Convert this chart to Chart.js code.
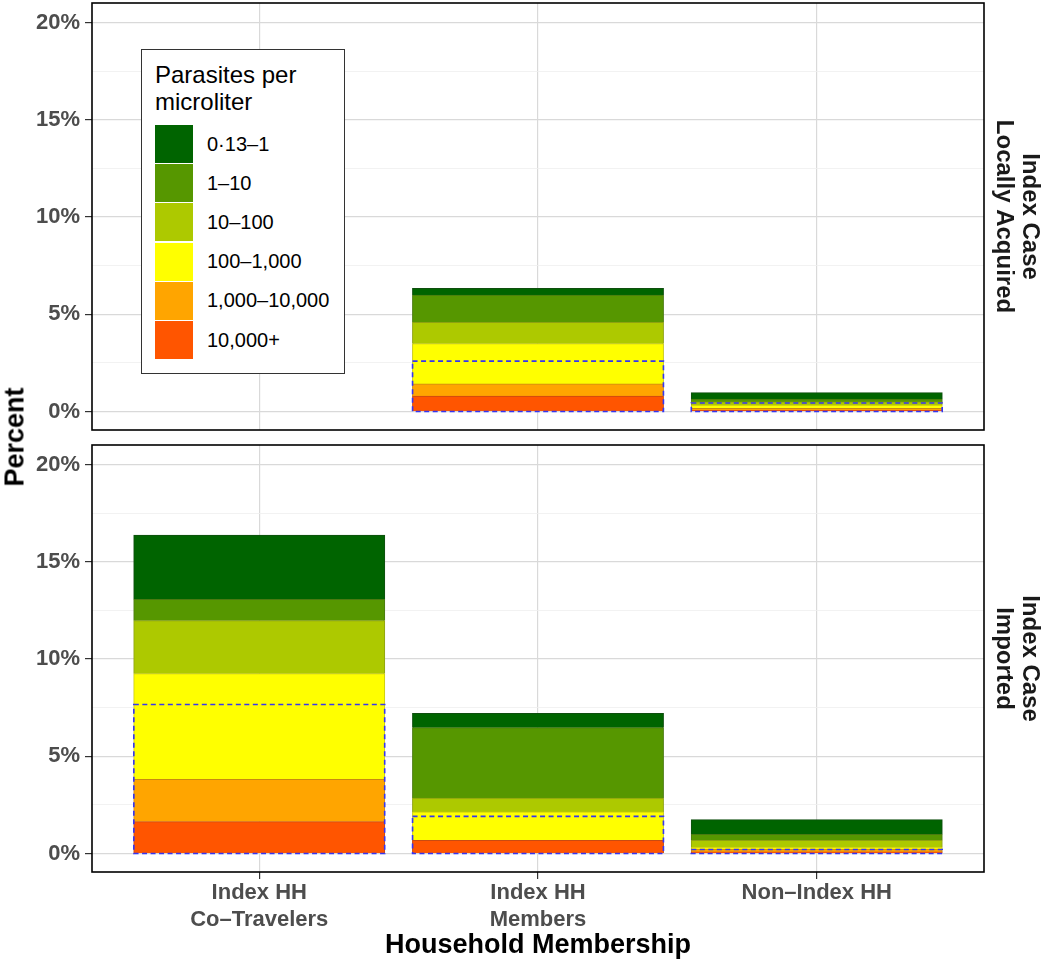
<!DOCTYPE html>
<html>
<head>
<meta charset="utf-8">
<script src="https://cdn.jsdelivr.net/npm/chart.js@4.4.1/dist/chart.umd.min.js"></script>
<style>
  html, body { margin: 0; padding: 0; background: #ffffff; }
  #wrap { position: relative; width: 1050px; height: 964px; font-family: "Liberation Sans", Arial, sans-serif; }
  #c1box { position: absolute; left: 0; top: 0; width: 1050px; height: 432px; }
  #c2box { position: absolute; left: 0; top: 432px; width: 1050px; height: 532px; }
  #ylab { position: absolute; left: 15px; top: 437px; transform: translate(-50%, -50%) rotate(-90deg);
          font-weight: bold; font-size: 27px; color: #000; white-space: nowrap; }
  #legend { position: absolute; left: 141px; top: 49px; width: 204px; height: 325px; box-sizing: border-box;
            border: 1px solid #333; background: #fff; }
  #legend .ttl { position: absolute; left: 13px; top: 11px; font-size: 24px; line-height: 27px; color: #000; }
  #legend .key { position: absolute; left: 13px; width: 38px; height: 38px; }
  #legend .lab { position: absolute; left: 65px; height: 39px; line-height: 39px; font-size: 20px; color: #000; white-space: nowrap; }
</style>
</head>
<body>
<div id="wrap">
  <div id="c1box"><canvas id="c1" width="1050" height="432"></canvas></div>
  <div id="c2box"><canvas id="c2" width="1050" height="532"></canvas></div>
  <div id="ylab">Percent</div>
  <div id="legend"></div>
</div>
<script>
// ---------------- data ----------------
const categories = [["Index HH", "Co–Travelers"], ["Index HH", "Members"], "Non–Index HH"];
// parasite density bands, bottom of stack first
const bandLabels = ["10,000+", "1,000–10,000", "100–1,000", "10–100", "1–10", "0·13–1"];
const bandColors = ["#ff5500", "#ffa500", "#ffff00", "#adc900", "#569700", "#006400"];
const bandEdges  = ["#c94a10", "#c98a10", "#c9c910", "#8ea210", "#4a7a10", "#0f4f0f"];

// Panel: Index Case Locally Acquired (values in %)
const local_10000plus   = [0, 0.78, 0.05];
const local_1000_10000  = [0, 0.64, 0.10];
const local_100_1000    = [0, 2.07, 0.17];
const local_10_100      = [0, 1.08, 0.17];
const local_1_10        = [0, 1.41, 0.14];
const local_013_1       = [0, 0.35, 0.34];
const local_dashed      = [0, 2.59, 0.44];

// Panel: Index Case Imported (values in %)
const imported_10000plus  = [1.63, 0.67, 0.08];
const imported_1000_10000 = [2.17, 0.00, 0.14];
const imported_100_1000   = [5.44, 1.46, 0.10];
const imported_10_100     = [2.73, 0.71, 0.35];
const imported_1_10       = [1.09, 3.62, 0.31];
const imported_013_1      = [3.30, 0.74, 0.76];
const imported_dashed     = [7.66, 1.91, 0.21];

const yTicks = [0, 2.5, 5, 7.5, 10, 12.5, 15, 17.5, 20];
const stripLocal = ["Index Case", "Locally Acquired"];
const stripImported = ["Index Case", "Imported"];

// ---------------- setup ----------------
const FONT = '"Liberation Sans", Arial, Helvetica, sans-serif';
Chart.defaults.font.family = FONT;

const framePlugin = {
  id: 'frame',
  afterDraw(chart) {
    const { ctx, chartArea: a } = chart;
    ctx.save();
    ctx.strokeStyle = '#000';
    ctx.lineWidth = 1.6;
    ctx.strokeRect(a.left, a.top, a.right - a.left, a.bottom - a.top);
    ctx.restore();
  }
};

const dashPlugin = {
  id: 'dashbox',
  afterDatasetsDraw(chart, args, opts) {
    const vals = opts.values || [];
    const meta = chart.getDatasetMeta(0);
    const y = chart.scales.y;
    const ctx = chart.ctx;
    ctx.save();
    ctx.setLineDash([5, 3.5]);
    ctx.strokeStyle = '#3535f2';
    ctx.lineWidth = 1.6;
    vals.forEach((v, i) => {
      if (!v) return;
      const el = meta.data[i];
      const w = el.width;
      const top = y.getPixelForValue(v);
      const base = y.getPixelForValue(0);
      ctx.strokeRect(el.x - w / 2, top, w, base - top);
    });
    ctx.restore();
  }
};

function noPad(s) { s.paddingTop = 0; s.paddingBottom = 0; s.paddingLeft = 0; s.paddingRight = 0; }

function makeChart(canvasId, bands, dashed, stripText, isBottom) {
  const datasets = bands.map((vals, b) => ({
    label: bandLabels[b],
    data: vals.map((v, i) => ({ x: i + 1, y: v })),
    backgroundColor: bandColors[b],
    borderColor: bandEdges[b],
    borderWidth: { top: 1, left: 1, right: 1, bottom: 0 },
    borderSkipped: false,
    inflateAmount: 0.5,
    barPercentage: 0.9,
    categoryPercentage: 1.0,
    stack: 's'
  }));
  const isMajor = c => c.tick && Math.abs(c.tick.value % 5) < 1e-9;
  return new Chart(document.getElementById(canvasId), {
    type: 'bar',
    data: { datasets },
    plugins: [framePlugin, dashPlugin],
    options: {
      responsive: false,
      animation: false,
      devicePixelRatio: 1,
      layout: { padding: isBottom ? { top: 13, bottom: 0, left: 0, right: 0 } : { top: 3, bottom: 2, left: 0, right: 0 } },
      plugins: {
        legend: { display: false },
        tooltip: { enabled: false },
        dashbox: { values: dashed }
      },
      scales: {
        x: {
          type: 'linear',
          min: 0.4,
          max: 3.6,
          offset: false,
          stacked: true,
          afterBuildTicks: s => { s.ticks = [1, 2, 3].map(v => ({ value: v })); },
          afterFit: s => { s.height = isBottom ? 92 : 0; noPad(s); },
          ticks: {
            display: isBottom,
            autoSkip: false,
            maxRotation: 0,
            minRotation: 0,
            padding: 1,
            color: '#4d4d4d',
            font: { size: 22, weight: 'bold', lineHeight: 1.2 },
            callback: v => categories[Math.round(v) - 1]
          },
          grid: { offset: false, color: '#d9d9d9', lineWidth: 1.2, drawTicks: isBottom, tickLength: 7, tickColor: '#333', tickWidth: 1.2 },
          border: { display: false },
          title: {
            display: isBottom,
            text: 'Household Membership',
            color: '#000',
            font: { size: 27, weight: 'bold' },
            padding: { top: 0, bottom: 2 }
          }
        },
        y: {
          type: 'linear',
          position: 'left',
          stacked: true,
          min: -0.95,
          max: 21,
          afterBuildTicks: s => { s.ticks = yTicks.map(v => ({ value: v })); },
          afterFit: s => { s.width = 92; noPad(s); },
          ticks: {
            autoSkip: false,
            padding: 5,
            color: '#4d4d4d',
            font: { size: 22, weight: 'bold' },
            callback: v => (Math.abs(v % 5) < 1e-9 ? v + '%' : '')
          },
          grid: {
            color: c => isMajor(c) ? '#d9d9d9' : '#efefef',
            lineWidth: c => isMajor(c) ? 1.2 : 0.8,
            tickLength: 7,
            tickColor: c => isMajor(c) ? '#333' : 'rgba(0,0,0,0)',
            tickWidth: 1.2
          },
          border: { display: false }
        },
        strip: {
          type: 'linear',
          position: 'right',
          display: true,
          afterFit: s => { s.width = 66; noPad(s); },
          grid: { display: false, drawTicks: false },
          ticks: { display: false },
          border: { display: false },
          title: {
            display: true,
            text: stripText,
            color: '#1a1a1a',
            font: { size: 24, weight: 'bold', lineHeight: 1.1 },
            padding: { top: 7, bottom: 0 }
          }
        }
      }
    }
  });
}

makeChart('c1',
  [local_10000plus, local_1000_10000, local_100_1000, local_10_100, local_1_10, local_013_1],
  local_dashed, stripLocal, false);
makeChart('c2',
  [imported_10000plus, imported_1000_10000, imported_100_1000, imported_10_100, imported_1_10, imported_013_1],
  imported_dashed, stripImported, true);

// ---------------- legend (HTML) ----------------
(function buildLegend() {
  const lg = document.getElementById('legend');
  const t = document.createElement('div');
  t.className = 'ttl';
  t.innerHTML = 'Parasites per<br>microliter';
  lg.appendChild(t);
  const order = bandLabels.map((l, i) => i).reverse();
  order.forEach((bi, row) => {
    const top = 75 + row * 39.2;
    const k = document.createElement('div');
    k.className = 'key';
    k.style.top = top + 'px';
    k.style.background = bandColors[bi];
    k.style.outline = '1px solid rgba(255,255,255,0.6)';
    lg.appendChild(k);
    const l = document.createElement('div');
    l.className = 'lab';
    l.style.top = (top - 0.5) + 'px';
    l.textContent = bandLabels[bi];
    lg.appendChild(l);
  });
})();
</script>
</body>
</html>
